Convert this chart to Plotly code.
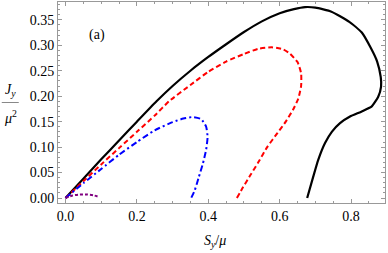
import plotly.graph_objects as go

black_x = [0, 0.05, 0.1, 0.15, 0.2, 0.255, 0.3, 0.35, 0.4, 0.45, 0.5, 0.55, 0.6, 0.64, 0.671, 0.70, 0.745, 0.795, 0.83, 0.855, 0.873, 0.883, 0.884, 0.876, 0.858, 0.830, 0.797, 0.769, 0.746, 0.727, 0.708, 0.694, 0.677]
black_y = [0, 0.038, 0.076, 0.113, 0.150, 0.190, 0.220, 0.250, 0.277, 0.302, 0.326, 0.347, 0.363, 0.371, 0.375, 0.374, 0.366, 0.346, 0.325, 0.295, 0.268, 0.238, 0.219, 0.199, 0.180, 0.170, 0.160, 0.147, 0.130, 0.108, 0.075, 0.042, 0.0]

red_x = [0, 0.05, 0.1, 0.15, 0.2, 0.25, 0.29, 0.35, 0.4, 0.45, 0.5, 0.54, 0.578, 0.61, 0.628, 0.65, 0.66, 0.66, 0.652, 0.637, 0.617, 0.594, 0.565, 0.54, 0.518, 0.498, 0.48]
red_y = [0, 0.033, 0.066, 0.098, 0.13, 0.162, 0.19, 0.222, 0.248, 0.268, 0.283, 0.293, 0.296, 0.292, 0.284, 0.267, 0.245, 0.22, 0.195, 0.173, 0.15, 0.128, 0.10, 0.07, 0.045, 0.022, 0.0]

blue_x = [0, 0.05, 0.1, 0.15, 0.2, 0.25, 0.3, 0.33, 0.355, 0.38, 0.394, 0.398, 0.394, 0.385, 0.373, 0.362, 0.352]
blue_y = [0, 0.029, 0.057, 0.085, 0.11, 0.133, 0.149, 0.156, 0.159, 0.155, 0.14, 0.12, 0.095, 0.068, 0.04, 0.015, 0.0]

purple_x = [0, 0.02, 0.04, 0.06, 0.08, 0.095]
purple_y = [0, 0.005, 0.007, 0.007, 0.005, 0.002]

x_ticks = [0.0, 0.2, 0.4, 0.6, 0.8]
y_ticks = [0.00, 0.05, 0.10, 0.15, 0.20, 0.25, 0.30, 0.35]

FONT = "Liberation Serif, DejaVu Serif, serif"

fig = go.Figure()
series = [
    (black_x, black_y, "black", "solid", 2.2),
    (red_x, red_y, "#ff0000", "5px,3px", 2.0),
    (blue_x, blue_y, "#0000ff", "6px,3px,2px,3px", 2.0),
    (purple_x, purple_y, "#800080", "3px,2px", 2.0),
]
for xs, ys, c, d, w in series:
    fig.add_trace(go.Scatter(x=xs, y=ys, mode="lines",
                             line=dict(color=c, dash=d, width=w, shape="spline", smoothing=0.5),
                             showlegend=False, hoverinfo="skip"))

axis_common = dict(
    showgrid=False, zeroline=False, showline=True, linecolor="#999999", linewidth=1,
    mirror="allticks", ticks="inside", ticklen=4, tickcolor="#999999", tickwidth=1,
    tickfont=dict(family=FONT, size=14, color="black"), automargin=False,
)
fig.update_xaxes(range=[-0.021, 0.895], tickvals=x_ticks, ticktext=[f"{v:.1f}" for v in x_ticks],
                 minor=dict(dtick=0.05, tick0=0, ticks="inside", ticklen=2, tickcolor="#999999"),
                 **axis_common)
fig.update_yaxes(range=[-0.0098, 0.385], tickvals=y_ticks, ticktext=[f"{v:.2f}" for v in y_ticks],
                 minor=dict(dtick=0.01, tick0=0, ticks="inside", ticklen=2, tickcolor="#999999"),
                 **axis_common)

fig.add_annotation(text="(a)", xref="paper", yref="paper", x=0.09, y=0.885,
                   showarrow=False, font=dict(family=FONT, size=14, color="black"))
fig.add_annotation(text="<i>S</i><sub><i>y</i></sub>/<i>μ</i>", xref="paper", yref="paper",
                   x=0.48, y=-0.19, yanchor="middle", showarrow=False,
                   font=dict(family=FONT, size=14, color="black"))
fig.add_annotation(text="<i>J</i><sub><i>y</i></sub>", xref="paper", yref="paper",
                   x=-0.145, y=0.56, xanchor="center", yanchor="middle", showarrow=False,
                   font=dict(family=FONT, size=14, color="black"))
fig.add_annotation(text="<i>μ</i><sup>2</sup>", xref="paper", yref="paper",
                   x=-0.145, y=0.43, xanchor="center", yanchor="middle", showarrow=False,
                   font=dict(family=FONT, size=14, color="black"))
fig.add_shape(type="line", xref="paper", yref="paper", x0=-0.172, x1=-0.12, y0=0.5, y1=0.5,
              line=dict(color="#888888", width=1))

fig.update_layout(width=388, height=253, margin=dict(l=58, r=3, t=2, b=50, autoexpand=False),
                  paper_bgcolor="white", plot_bgcolor="white")
fig.write_html("out.html", config={"displayModeBar": False},
               post_script="document.body.style.margin='0px';document.body.style.padding='0px';")
